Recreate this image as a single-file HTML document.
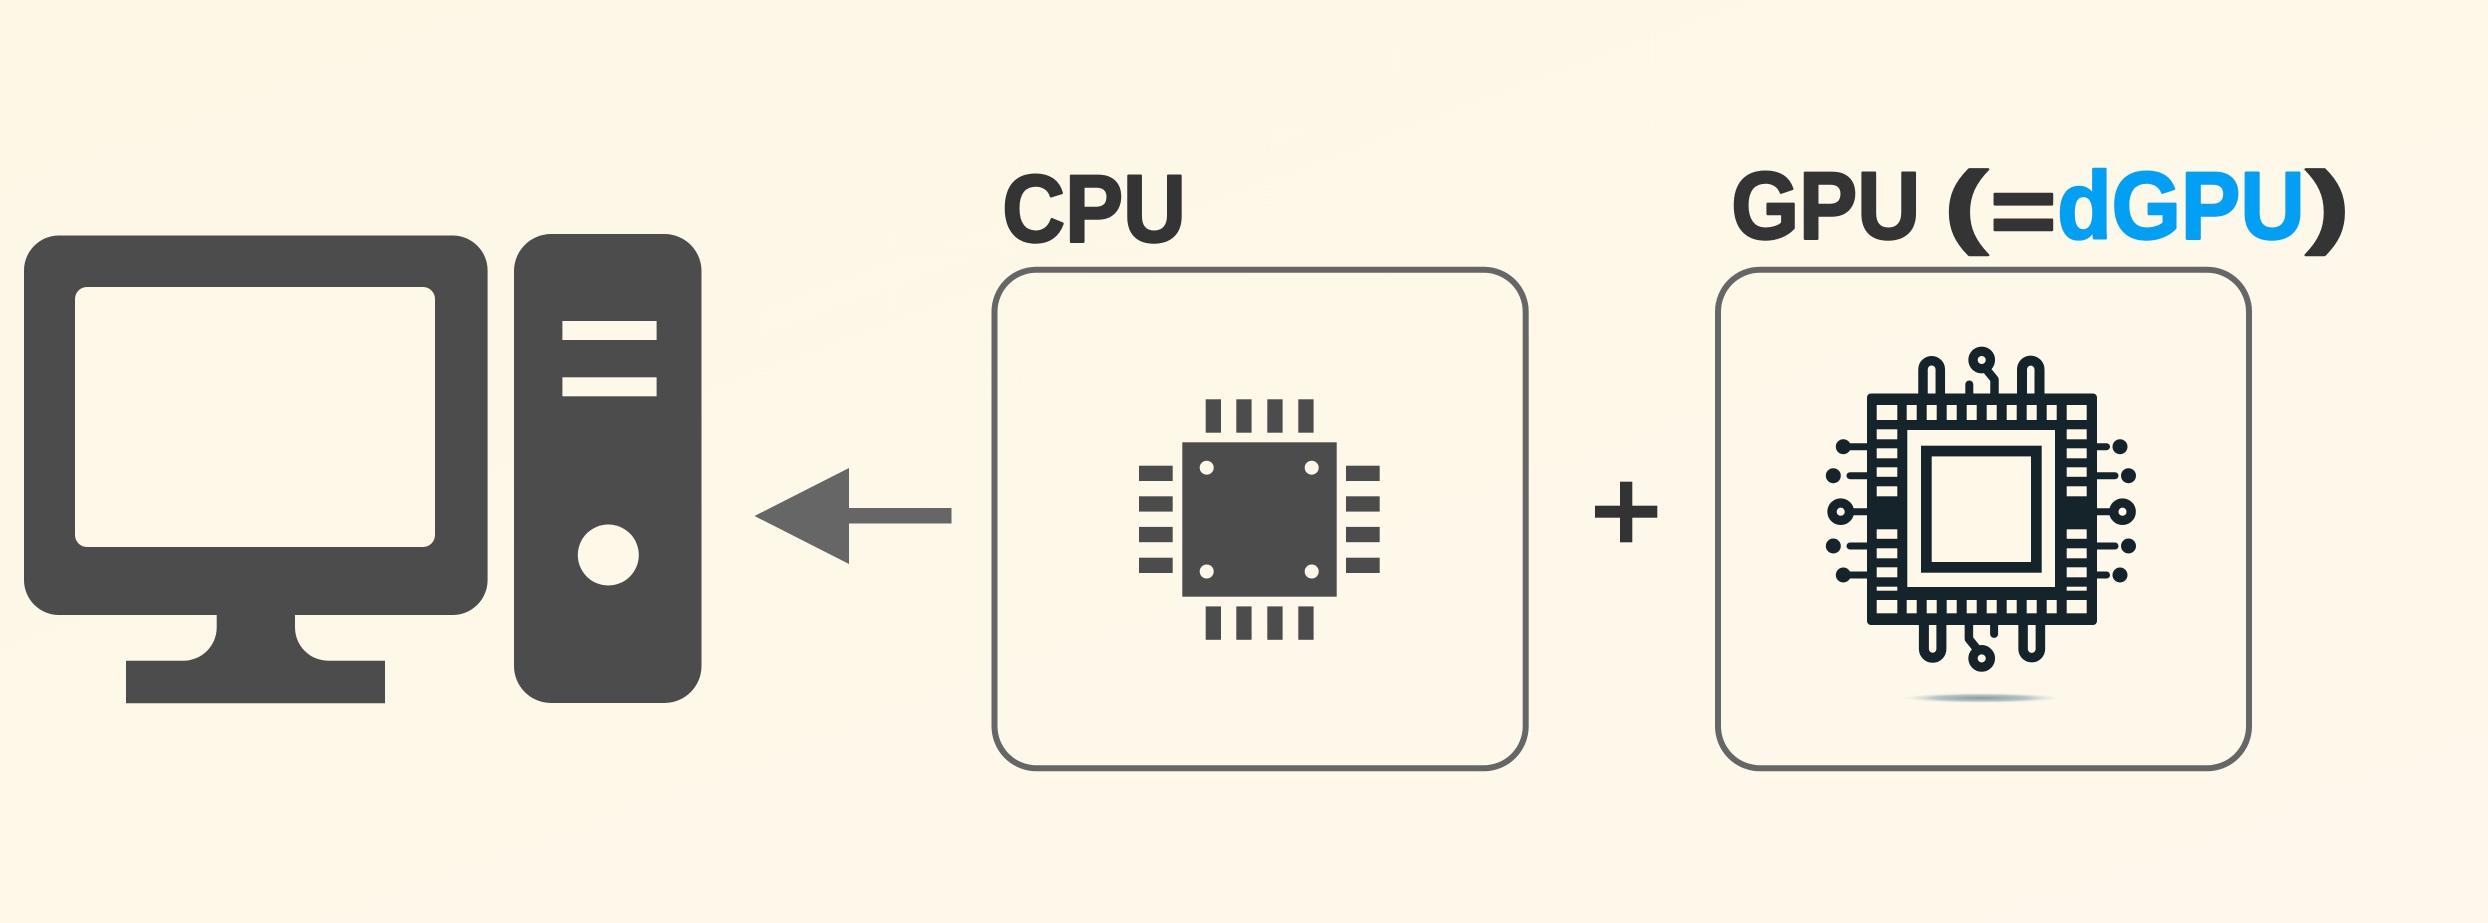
<!DOCTYPE html>
<html>
<head>
<meta charset="utf-8">
<style>
  html, body { margin: 0; padding: 0; background: #FEF8E8; }
  body { width: 2488px; height: 923px; overflow: hidden; }
  svg { display: block; }
  .lbl { font-family: "Liberation Sans", Arial, sans-serif; font-weight: bold; stroke-width: 2.4; stroke-linejoin: round; }
</style>
</head>
<body>
<svg width="2488" height="923" viewBox="0 0 2488 923" xmlns="http://www.w3.org/2000/svg">
  <defs>
    <linearGradient id="bg" x1="0" y1="0" x2="1" y2="1">
      <stop offset="0" stop-color="#FDF7E6"/>
      <stop offset="1" stop-color="#FEF8EC"/>
    </linearGradient>
    <radialGradient id="shadow" cx="0.5" cy="0.5" r="0.5">
      <stop offset="0" stop-color="#7f949c" stop-opacity="0.95"/>
      <stop offset="0.6" stop-color="#9aaeb4" stop-opacity="0.7"/>
      <stop offset="1" stop-color="#c8d2d2" stop-opacity="0"/>
    </radialGradient>
  </defs>

  <rect x="0" y="0" width="2488" height="923" fill="url(#bg)"/>

  <!-- ===== Monitor ===== -->
  <g fill="#4c4c4c">
    <rect x="24" y="235.5" width="463.6" height="379.5" rx="35" ry="35"/>
    <path d="M216.7 610 L295 610 L295 627.3 A33.3 33.3 0 0 0 328.3 660.7 L385 660.7 L385 703.3 L126 703.3 L126 660.7 L183.3 660.7 A33.3 33.3 0 0 0 216.7 627.3 Z"/>
  </g>
  <rect x="75" y="287" width="360" height="260" rx="12" ry="12" fill="#FEF8E8"/>

  <!-- ===== Tower ===== -->
  <rect x="514" y="234" width="187.5" height="469" rx="37" ry="37" fill="#4c4c4c"/>
  <rect x="562.4" y="321" width="94.2" height="19" fill="#FEF8E8"/>
  <rect x="562.4" y="377.3" width="94.2" height="19" fill="#FEF8E8"/>
  <circle cx="608.3" cy="555" r="30.5" fill="#FEF8E8"/>

  <!-- ===== Arrow ===== -->
  <g fill="#666666">
    <polygon points="754.5,516 849,468 849,564"/>
    <rect x="848" y="508" width="103.5" height="15.5"/>
  </g>

  <!-- ===== CPU label & box ===== -->
  <text class="lbl" x="1002.3" y="241.7" font-size="96" fill="#343434" stroke="#343434" textLength="183.6" lengthAdjust="spacingAndGlyphs">CPU</text>
  <rect x="994.5" y="269.7" width="531.2" height="498.6" rx="42" ry="42" fill="none" stroke="#666666" stroke-width="6"/>

  <!-- CPU chip -->
  <g fill="#4c4c4c">
    <rect x="1182.3" y="442.3" width="154.4" height="154.4"/>
    <rect x="1205.7" y="399.3" width="15.3" height="33.4"/>
    <rect x="1236.3" y="399.3" width="15.3" height="33.4"/>
    <rect x="1267.3" y="399.3" width="15.3" height="33.4"/>
    <rect x="1298.3" y="399.3" width="15.3" height="33.4"/>
    <rect x="1205.7" y="606.4" width="15.3" height="33.4"/>
    <rect x="1236.3" y="606.4" width="15.3" height="33.4"/>
    <rect x="1267.3" y="606.4" width="15.3" height="33.4"/>
    <rect x="1298.3" y="606.4" width="15.3" height="33.4"/>
    <rect x="1139" y="465.7" width="33.7" height="15.3"/>
    <rect x="1139" y="496.3" width="33.7" height="15.3"/>
    <rect x="1139" y="526.9" width="33.7" height="15.3"/>
    <rect x="1139" y="557.7" width="33.7" height="15.3"/>
    <rect x="1346" y="465.7" width="33.7" height="15.3"/>
    <rect x="1346" y="496.3" width="33.7" height="15.3"/>
    <rect x="1346" y="526.9" width="33.7" height="15.3"/>
    <rect x="1346" y="557.7" width="33.7" height="15.3"/>
  </g>
  <g fill="#FEF8E8">
    <circle cx="1206.7" cy="467.7" r="7"/>
    <circle cx="1311.7" cy="467.7" r="7"/>
    <circle cx="1206.7" cy="571.5" r="7"/>
    <circle cx="1311.7" cy="571.5" r="7"/>
  </g>

  <!-- ===== Plus ===== -->
  <g fill="#333333">
    <rect x="1595" y="505.7" width="62.3" height="12"/>
    <rect x="1620" y="481.7" width="12.3" height="60.6"/>
  </g>

  <!-- ===== GPU label & box ===== -->
  <text class="lbl" x="1731.2" y="238.5" font-size="96" fill="#343434" stroke="#343434" textLength="189" lengthAdjust="spacingAndGlyphs">GPU</text>
  <text class="lbl" x="1944" y="236" font-size="92" fill="#343434" stroke="#343434" textLength="43.8" lengthAdjust="spacingAndGlyphs">(</text>
  <text class="lbl" x="1990.3" y="243.5" font-size="96" fill="#343434" stroke="#343434" textLength="66.2" lengthAdjust="spacingAndGlyphs">=</text>
  <text class="lbl" x="2057.2" y="238.5" font-size="96" fill="#02A0F4" stroke="#02A0F4" textLength="247.5" lengthAdjust="spacingAndGlyphs">dGPU</text>
  <text class="lbl" x="2306" y="236" font-size="92" fill="#343434" stroke="#343434" textLength="43.8" lengthAdjust="spacingAndGlyphs">)</text>
  <rect x="1718" y="269.7" width="531" height="498.6" rx="42" ry="42" fill="none" stroke="#666666" stroke-width="6"/>

  <!-- shadow under GPU chip -->
  <ellipse cx="1981.5" cy="698" rx="78" ry="5" fill="url(#shadow)"/>

  <!-- GPU chip -->
  <g id="gpu">
    <rect x="1867" y="393.5" width="230" height="231.5" rx="4" ry="4" fill="#15232b"/>
    <rect x="1907.3" y="430" width="147.7" height="157" fill="#FEF8E8"/>
    <rect x="1926.35" y="451.05" width="110" height="116.3" fill="none" stroke="#15232b" stroke-width="10.7"/>

    <g fill="#FEF8E8">
      <rect x="1876.7" y="405" width="20.6" height="15"/>
      <rect x="1906.7" y="405" width="10" height="15"/>
      <rect x="1926.7" y="405" width="10" height="15"/>
      <rect x="1946.7" y="405" width="10" height="15"/>
      <rect x="1966.7" y="405" width="10" height="15"/>
      <rect x="1986.7" y="405" width="10" height="15"/>
      <rect x="2006.7" y="405" width="10" height="15"/>
      <rect x="2026.7" y="405" width="10" height="15"/>
      <rect x="2046.7" y="405" width="10" height="15"/>
      <rect x="2066.7" y="405" width="20" height="15"/>
      <rect x="1876.7" y="600" width="20.6" height="13.3"/>
      <rect x="1906.7" y="600" width="10" height="13.3"/>
      <rect x="1926.7" y="600" width="10" height="13.3"/>
      <rect x="1946.7" y="600" width="10" height="13.3"/>
      <rect x="1966.7" y="600" width="10" height="13.3"/>
      <rect x="1986.7" y="600" width="10" height="13.3"/>
      <rect x="2006.7" y="600" width="10" height="13.3"/>
      <rect x="2026.7" y="600" width="10" height="13.3"/>
      <rect x="2046.7" y="600" width="10" height="13.3"/>
      <rect x="2066.7" y="600" width="20" height="13.3"/>
      <rect x="1876.7" y="429.3" width="20.6" height="10"/>
      <rect x="1876.7" y="448.3" width="20.6" height="10"/>
      <rect x="1876.7" y="467.3" width="20.6" height="9.5"/>
      <rect x="1876.7" y="486.3" width="20.6" height="10"/>
      <rect x="1876.7" y="529.3" width="20.6" height="9.5"/>
      <rect x="1876.7" y="548.3" width="20.6" height="10"/>
      <rect x="1876.7" y="567.3" width="20.6" height="10"/>
      <rect x="1876.7" y="586.7" width="20.6" height="4"/>
      <rect x="2066.7" y="429.3" width="20" height="10"/>
      <rect x="2066.7" y="448.3" width="20" height="10"/>
      <rect x="2066.7" y="467.3" width="20" height="9.5"/>
      <rect x="2066.7" y="486.3" width="20" height="10"/>
      <rect x="2066.7" y="529.3" width="20" height="9.5"/>
      <rect x="2066.7" y="548.3" width="20" height="10"/>
      <rect x="2066.7" y="567.3" width="20" height="10"/>
      <rect x="2066.7" y="586.7" width="20" height="4"/>
    </g>

    <g stroke="#15232b" stroke-linecap="round" fill="#15232b">
      <circle cx="1843.3" cy="446.7" r="7.5" stroke="none"/>
      <line x1="1843.3" y1="446.7" x2="1868" y2="446.7" stroke-width="7"/>
      <circle cx="1833.3" cy="475.7" r="7.5" stroke="none"/>
      <line x1="1850" y1="475.7" x2="1868" y2="475.7" stroke-width="7"/>
      <line x1="1850" y1="511.7" x2="1872" y2="511.7" stroke-width="7"/>
      <circle cx="1840.7" cy="511.7" r="8.7" fill="#FEF8E8" stroke-width="9.3"/>
      <circle cx="1833.3" cy="546" r="7.5" stroke="none"/>
      <line x1="1850" y1="546" x2="1868" y2="546" stroke-width="7"/>
      <circle cx="1843.3" cy="575" r="7.5" stroke="none"/>
      <line x1="1843.3" y1="575" x2="1868" y2="575" stroke-width="7"/>
    </g>

    <g stroke="#15232b" stroke-linecap="round" fill="#15232b">
      <line x1="2095" y1="446.7" x2="2106.5" y2="446.7" stroke-width="7"/>
      <circle cx="2120" cy="446.7" r="7.5" stroke="none"/>
      <line x1="2095" y1="475.7" x2="2115" y2="475.7" stroke-width="7"/>
      <circle cx="2128.5" cy="475.7" r="7.5" stroke="none"/>
      <line x1="2092" y1="511.7" x2="2113" y2="511.7" stroke-width="7"/>
      <circle cx="2122.5" cy="511.7" r="8.7" fill="#FEF8E8" stroke-width="9.3"/>
      <line x1="2095" y1="546" x2="2115" y2="546" stroke-width="7"/>
      <circle cx="2128.5" cy="546" r="7.5" stroke="none"/>
      <line x1="2095" y1="575" x2="2106.5" y2="575" stroke-width="7"/>
      <circle cx="2120" cy="575" r="7.5" stroke="none"/>
    </g>

    <g stroke="#15232b" fill="none" stroke-linejoin="round">
      <path d="M1923 396 V369.4 A8.65 8.65 0 0 1 1940.3 369.4 V396" stroke-width="9.5"/>
      <path d="M2022 396 V369.4 A8.75 8.75 0 0 1 2039.5 369.4 V396" stroke-width="10"/>
      <path d="M1986 369 L1994.5 379.5 V396" stroke-width="8.5" stroke-linecap="round"/>
      <line x1="1969.3" y1="384.5" x2="1969.3" y2="396" stroke-width="8" stroke-linecap="round"/>
      <circle cx="1981.7" cy="360" r="8.7" fill="#FEF8E8" stroke-width="9.3"/>
    </g>
    <g transform="rotate(180 1981.7 509.2)" stroke="#15232b" fill="none" stroke-linejoin="round">
      <path d="M1923 396 V369.4 A8.65 8.65 0 0 1 1940.3 369.4 V396" stroke-width="9.5"/>
      <path d="M2022 396 V369.4 A8.75 8.75 0 0 1 2039.5 369.4 V396" stroke-width="10"/>
      <path d="M1986 369 L1994.5 379.5 V396" stroke-width="8.5" stroke-linecap="round"/>
      <line x1="1969.3" y1="384.5" x2="1969.3" y2="396" stroke-width="8" stroke-linecap="round"/>
      <circle cx="1981.7" cy="360" r="8.7" fill="#FEF8E8" stroke-width="9.3"/>
    </g>
  </g>
</svg>
</body>
</html>
